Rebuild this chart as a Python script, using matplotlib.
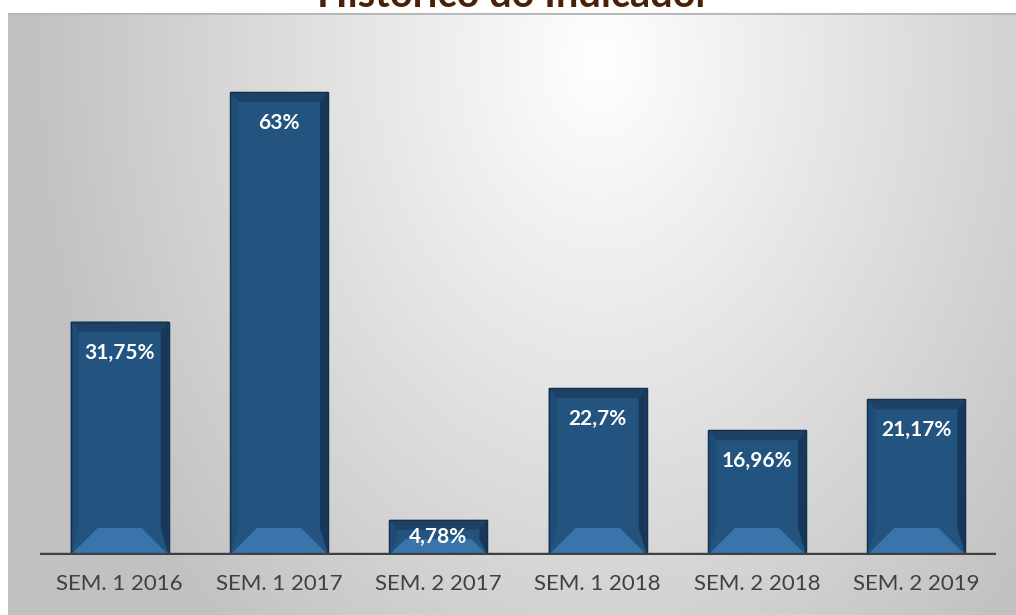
import numpy as np
import matplotlib
matplotlib.use("Agg")
import matplotlib.pyplot as plt
from matplotlib.patches import Polygon

# dados do grafico
categorias = ["SEM. 1 2016", "SEM. 1 2017", "SEM. 2 2017", "SEM. 1 2018", "SEM. 2 2018", "SEM. 2 2019"]
valores = [31.75, 63, 4.78, 22.7, 16.96, 21.17]
rotulos = ["31,75%", "63%", "4,78%", "22,7%", "16,96%", "21,17%"]
titulo = "Histórico do Indicador"

W, H = 1016, 615
fig = plt.figure(figsize=(W / 100, H / 100), dpi=100)
fig.patch.set_facecolor("white")

# fundo com gradiente radial
bg = fig.add_axes([8 / W, 0, 1 - 8 / W, (H - 13) / H])
yy, xx = np.mgrid[13:H, 8:W]
r = np.sqrt(((xx - 600) / 520.0) ** 2 + ((yy - 60) / 700.0) ** 2)
g = 1 - 0.22 * np.clip(r, 0, 1.1)
img = np.dstack([g, g, g])
bg.imshow(img, aspect="auto", extent=[0, 1, 0, 1], origin="upper")
bg.axhline(1, color="#b5b5b5", lw=2)
bg.axis("off")

# eixo principal
x_left, x_right, y_base, y_top = 40, 996, 555, 40.5
ax = fig.add_axes([x_left / W, (H - y_base) / H, (x_right - x_left) / W, (y_base - y_top) / H])
ax.patch.set_alpha(0)
ax.set_xlim(-0.5, len(categorias) - 0.5)
ax.set_ylim(0, 70)
for s in ax.spines.values():
    s.set_visible(False)
ax.set_yticks([])

ux = (len(categorias)) / (x_right - x_left)   # unidades por pixel
uy = 70 / (y_base - y_top)

larg = 0.615
x = np.arange(len(categorias))
barras = ax.bar(x, valores, width=larg, color="#22547f", edgecolor="#16324e", linewidth=0.8, zorder=2)

for b, v, lab in zip(barras, valores, rotulos):
    x0 = b.get_x()
    x1 = x0 + b.get_width()
    y1 = v
    hpx = v / uy
    s = 8 * ux
    t = 10 * uy
    bb = min(27, 0.45 * hpx) * uy
    bs = min(27, 0.45 * hpx) * ux
    # faixa de cima
    ax.add_patch(Polygon([(x0, y1), (x1, y1), (x1 - s, y1 - t), (x0 + s, y1 - t)],
                         closed=True, color="#1e4266", zorder=3, lw=0))
    # lados
    ax.add_patch(Polygon([(x0, 0), (x0, y1), (x0 + s, y1 - t), (x0 + s, bb)],
                         closed=True, color="#1f4c76", zorder=3, lw=0))
    ax.add_patch(Polygon([(x1, 0), (x1, y1), (x1 - s, y1 - t), (x1 - s, bb)],
                         closed=True, color="#17385a", zorder=3, lw=0))
    # faixa de baixo (mais clara)
    ax.add_patch(Polygon([(x0, 0), (x1, 0), (x1 - bs, bb), (x0 + bs, bb)],
                         closed=True, color="#3b74aa", zorder=3, lw=0))
    ax.add_patch(Polygon([(x0, y1), (x1, y1), (x1, 0), (x0, 0)], closed=True,
                         fill=False, edgecolor="#15304a", lw=1.0, zorder=4))
    ypos = max(y1 - 31 * uy, y1 / 2)
    ax.text((x0 + x1) / 2, ypos, lab, ha="center", va="center", color="white",
            fontsize=15, fontweight="bold", family="Lato", zorder=5)

ax.axhline(0, color="#404040", lw=3.2, zorder=6)
ax.set_xticks(x)
ax.set_xticklabels(categorias, fontsize=16, color="#404040", family="Lato")
ax.tick_params(axis="x", length=0, pad=14)

fig.text(514 / W, 1 - 7 / H, titulo, ha="center", va="baseline", fontsize=28.5,
         fontweight="bold", color="#4a2008", family="Lato")

fig.savefig("out.png", dpi=100)
